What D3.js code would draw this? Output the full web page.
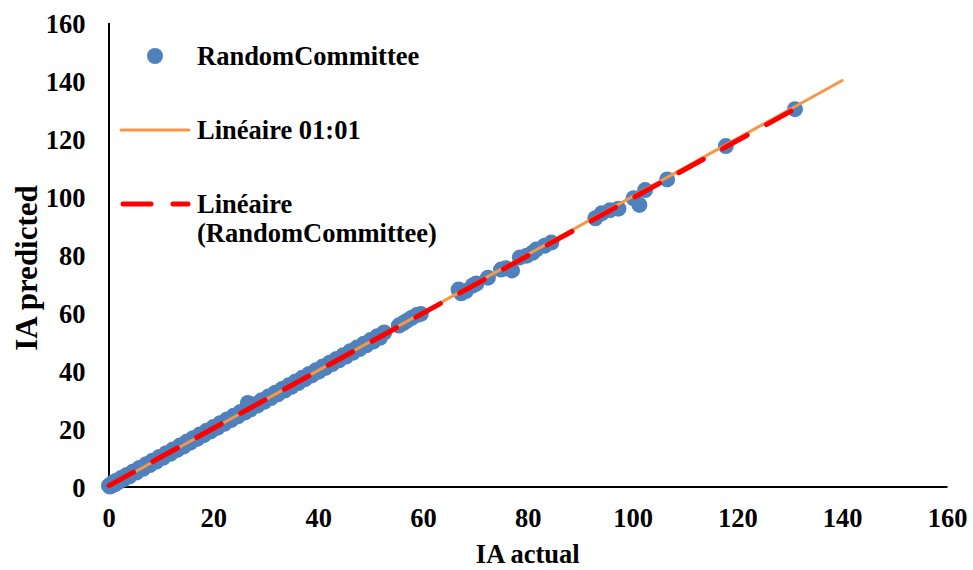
<!DOCTYPE html>
<html>
<head>
<meta charset="utf-8">
<script src="https://cdn.jsdelivr.net/npm/d3@7"></script>
<style>
  body { margin: 0; background: #fff; }
</style>
</head>
<body>
<div id="chart"></div>
<script>
var iaActual = [0.1, 0.3, 0.5, 0.8, 1.1, 1.4, 1.9, 2.4, 2.9, 3.5, 4.0, 4.7, 5.3, 5.9, 6.6, 7.2, 7.9, 8.4,
  9.1, 9.7, 10.4, 11.0, 11.8, 12.3, 13.1, 13.6, 14.3, 14.9, 15.6, 16.1, 16.9, 17.4, 18.2, 18.7, 19.5,
  20.0, 20.8, 21.3, 22.1, 22.6, 23.4, 23.9, 24.7, 25.2, 26.0, 26.6, 27.1, 27.9, 28.4, 29.2, 29.7, 30.5,
  31.0, 31.8, 32.3, 33.1, 33.6, 34.4, 34.9, 35.7, 36.2, 37.0, 37.5, 38.3, 38.8, 39.6, 40.1, 40.9, 41.4,
  42.2, 42.7, 43.5, 44.0, 44.8, 45.3, 46.1, 46.6, 47.4, 47.9, 48.7, 49.2, 50.0, 50.5, 51.3, 51.8, 52.6,
  55.4, 56.2, 56.9, 57.8, 58.8, 59.6,
  66.8, 67.3, 68.2, 69.5, 70.2, 72.4, 74.9, 75.8, 77.0, 78.5, 79.8, 80.9, 81.6, 83.2, 84.5,
  92.9, 94.1, 95.7, 97.3, 100.2, 101.3, 102.4, 106.6, 117.8, 131.0];

var iaPredicted = [0.3, 0.0, 0.8, 1.3, 0.7, 1.9, 1.5, 2.9, 2.5, 4.0, 3.5, 5.2, 4.8, 6.4, 6.1, 7.7, 7.4, 8.9,
  8.6, 10.2, 9.9, 11.5, 11.3, 12.8, 12.6, 14.1, 13.8, 15.4, 15.1, 16.6, 16.4, 17.9, 17.7, 19.2, 19.0,
  20.5, 20.3, 21.8, 21.6, 23.1, 22.9, 24.4, 24.2, 25.7, 25.5, 28.8, 26.6, 28.4, 27.9, 29.7, 29.2, 31.0,
  30.5, 32.3, 31.8, 33.6, 33.1, 34.9, 34.4, 36.2, 35.7, 37.5, 37.0, 38.8, 38.3, 40.1, 39.6, 41.4, 40.9,
  42.7, 42.2, 44.0, 43.5, 45.3, 44.8, 46.6, 46.1, 47.9, 47.4, 49.2, 48.7, 50.5, 50.0, 51.8, 51.3, 53.1,
  55.5, 56.3, 57.1, 58.1, 59.1, 59.5,
  67.9, 66.6, 67.4, 69.3, 70.0, 72.0, 74.8, 75.3, 74.5, 79.0, 79.6, 80.6, 81.7, 83.0, 84.1,
  92.5, 94.2, 95.3, 95.8, 99.4, 97.1, 102.2, 105.9, 117.4, 130.1];

var tickValues = [0, 20, 40, 60, 80, 100, 120, 140, 160];
var identityEnd = 140;

var seriesName = "RandomCommittee";
var identityName = "Linéaire 01:01";
var trendName = ["Linéaire", "(RandomCommittee)"];

var font = "'Liberation Serif', Tinos, 'Times New Roman', 'DejaVu Serif', serif";
var width = 973, height = 570;

var svg = d3.select("#chart")
  .append("svg")
    .attr("width", width)
    .attr("height", height)
    .attr("font-family", font)
    .attr("font-weight", "bold");

var x = d3.scaleLinear().domain([0, 160]).range([108.5, 947]);
var y = d3.scaleLinear().domain([0, 160]).range([486.5, 22.5]);

// axes
var xAxis = svg.append("g")
  .attr("transform", "translate(0," + y(0) + ")")
  .call(d3.axisBottom(x).tickValues(tickValues).tickSize(0).tickSizeOuter(0));
xAxis.attr("font-family", font).attr("font-size", 26.5);
xAxis.selectAll("text")
  .attr("y", 31).attr("dy", "0.36em")
  .style("fill", "#000");

var yAxis = svg.append("g")
  .attr("transform", "translate(" + x(0) + ",0)")
  .call(d3.axisLeft(y).tickValues(tickValues).tickSize(0).tickSizeOuter(0));
yAxis.attr("font-family", font).attr("font-size", 26.5);
yAxis.selectAll("text")
  .attr("x", -23).attr("dy", "0.36em")
  .style("fill", "#000");

svg.selectAll(".domain").attr("stroke", "#000").attr("stroke-width", 2);

// axis titles
svg.append("text")
  .attr("x", (x(0) + x(160)) / 2)
  .attr("y", 563)
  .attr("text-anchor", "middle")
  .style("font-size", "26.5px")
  .text("IA actual");

svg.append("text")
  .attr("transform", "translate(37,268)rotate(-90)")
  .attr("text-anchor", "middle")
  .style("font-size", "31px")
  .text("IA predicted");

// points
svg.selectAll("circle.pt")
  .data(iaActual)
  .enter()
  .append("circle")
    .attr("class", "pt")
    .attr("cx", function(d) { return x(d); })
    .attr("cy", function(d, i) { return y(iaPredicted[i]); })
    .attr("r", 8)
    .attr("fill", "#4F81BD");

// 1:1 line
svg.append("line")
  .attr("x1", x(0)).attr("y1", y(0))
  .attr("x2", x(identityEnd)).attr("y2", y(identityEnd))
  .attr("stroke", "#F79646")
  .attr("stroke-width", 3)
  .attr("stroke-linecap", "round");

// least squares trend line
var mx = d3.mean(iaActual), my = d3.mean(iaPredicted);
var sxy = d3.sum(iaActual, function(d, i) { return (d - mx) * (iaPredicted[i] - my); });
var sxx = d3.sum(iaActual, function(d) { return (d - mx) * (d - mx); });
var slope = sxy / sxx, intercept = my - slope * mx;
var xMin = d3.min(iaActual), xMax = d3.max(iaActual);

svg.append("line")
  .attr("x1", x(xMin)).attr("y1", y(intercept + slope * xMin))
  .attr("x2", x(xMax)).attr("y2", y(intercept + slope * xMax))
  .attr("stroke", "#FF0000")
  .attr("stroke-width", 5)
  .attr("stroke-dasharray", "28,22")
  .attr("stroke-linecap", "round");

// legend
var legend = svg.append("g");

legend.append("circle")
  .attr("cx", 155).attr("cy", 56).attr("r", 8)
  .attr("fill", "#4F81BD");
legend.append("text")
  .attr("x", 197).attr("y", 65)
  .style("font-size", "26.5px")
  .text(seriesName);

legend.append("line")
  .attr("x1", 121).attr("y1", 130).attr("x2", 189).attr("y2", 130)
  .attr("stroke", "#F79646").attr("stroke-width", 3)
  .attr("stroke-linecap", "round");
legend.append("text")
  .attr("x", 197).attr("y", 139)
  .style("font-size", "26.5px")
  .text(identityName);

legend.append("line")
  .attr("x1", 123).attr("y1", 204).attr("x2", 188).attr("y2", 204)
  .attr("stroke", "#FF0000").attr("stroke-width", 5)
  .attr("stroke-dasharray", "28,22")
  .attr("stroke-linecap", "round");
legend.selectAll("text.trend")
  .data(trendName)
  .enter()
  .append("text")
    .attr("class", "trend")
    .attr("x", 197)
    .attr("y", function(d, i) { return 213 + i * 29; })
    .style("font-size", "26.5px")
    .text(function(d) { return d; });
</script>
</body>
</html>
